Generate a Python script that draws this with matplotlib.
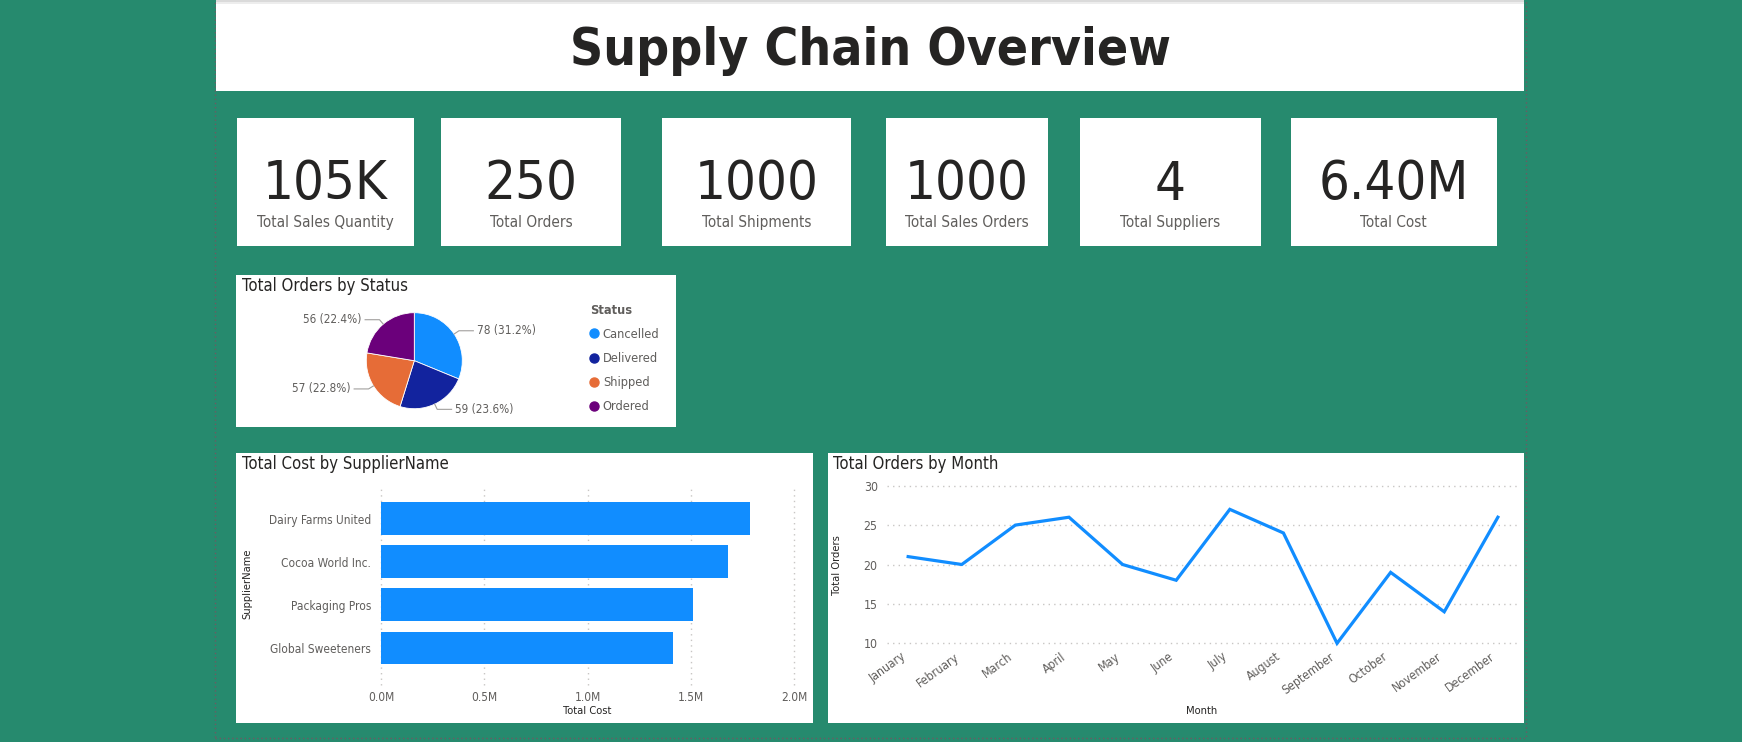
import numpy as np
import matplotlib
matplotlib.use("Agg")
import matplotlib.pyplot as plt
from matplotlib.patches import Rectangle
from matplotlib.lines import Line2D
from matplotlib.ticker import FuncFormatter
from matplotlib.transforms import ScaledTranslation

# Data ------------------------------------------------------------------------
kpi_values = ["105K", "250", "1000", "1000", "4", "6.40M"]
kpi_labels = ["Total Sales Quantity", "Total Orders", "Total Shipments",
              "Total Sales Orders", "Total Suppliers", "Total Cost"]

status_names = ["Cancelled", "Delivered", "Shipped", "Ordered"]
status_orders = [78, 59, 57, 56]

supplier_names = ["Dairy Farms United", "Cocoa World Inc.", "Packaging Pros", "Global Sweeteners"]
supplier_cost = [1.785e6, 1.680e6, 1.511e6, 1.414e6]

months = ["January", "February", "March", "April", "May", "June", "July",
          "August", "September", "October", "November", "December"]
month_orders = [21, 20, 25, 26, 20, 18, 27, 24, 10, 19, 14, 26]

# Style -----------------------------------------------------------------------
plt.rcParams["font.family"] = ["DejaVu Sans"]
plt.rcParams["font.stretch"] = "condensed"

GREEN = "#268A6E"
DARK = "#252423"
GREY = "#605E5C"
GRID = "#C8C6C4"
BLUE = "#118DFF"
status_colors = ["#118DFF", "#12239E", "#E66C37", "#6B007B"]

W, H = 1742, 742


def fx(x):
    return x / W


def fy(y):
    return 1 - y / H


def box(x0, y0, x1, y1):
    # pixel rectangle (y measured from the top) -> figure fraction
    return [x0 / W, 1 - y1 / H, (x1 - x0) / W, (y1 - y0) / H]


def panel(x0, y0, x1, y1, color="white"):
    fig.add_artist(Rectangle((x0 / W, 1 - y1 / H), (x1 - x0) / W, (y1 - y0) / H,
                             transform=fig.transFigure, facecolor=color,
                             edgecolor="none", zorder=-1))


fig = plt.figure(figsize=(W / 100, H / 100), dpi=100, facecolor=GREEN)

# report border (dotted), sits under the panels
fig.add_artist(Rectangle((fx(215), fy(738)), (1526 - 215) / W, (738 - 1.5) / H,
                         transform=fig.transFigure, facecolor="none",
                         edgecolor="#6E5A62", linestyle=(0, (1, 2)), lw=1, zorder=-2))

# Header ----------------------------------------------------------------------
panel(216, 0, 1524, 90.7)
panel(216, 0, 1524, 2, color="#DADADA")
panel(216, 2, 1524, 4, color="#EDEDED")
fig.text(fx(870), fy(65), "Supply Chain Overview", ha="center", va="baseline",
         fontsize=37, fontweight="bold", color=DARK)

# KPI cards -------------------------------------------------------------------
card_x = [(236.5, 414.4), (441, 621.3), (662, 850.7), (886, 1048), (1080, 1261), (1290.5, 1497)]
for (x0, x1), val, lab in zip(card_x, kpi_values, kpi_labels):
    panel(x0, 117.7, x1, 245.8)
    xc = (x0 + x1) / 2
    fig.text(fx(xc), fy(199.5), val, ha="center", va="baseline",
             fontsize=39, color=DARK)
    fig.text(fx(xc), fy(227), lab, ha="center", va="baseline",
             fontsize=11, color=GREY)

# Pie: Total Orders by Status --------------------------------------------------
panel(236, 275, 676, 427.3)
fig.text(fx(241.7), fy(290.7), "Total Orders by Status", ha="left", va="baseline",
         fontsize=12, color=DARK)

cx, cy, r = 414.3, 360.7, 48
ax_pie = fig.add_axes(box(cx - r, cy - r, cx + r, cy + r))
wedges, _ = ax_pie.pie(status_orders, colors=status_colors, startangle=90,
                       counterclock=False, radius=1,
                       wedgeprops=dict(edgecolor="white", linewidth=0.6))
ax_pie.set_xlim(-1, 1)
ax_pie.set_ylim(-1, 1)
ax_pie.axis("off")

total = sum(status_orders)
for w, v in zip(wedges, status_orders):
    ang = np.deg2rad((w.theta1 + w.theta2) / 2)
    px, py = np.cos(ang), np.sin(ang)
    ex, ey = 1.12 * px, 1.12 * py
    side = 1 if px >= 0 else -1
    lx = ex + side * 0.3
    ax_pie.plot([1.0 * px, ex, lx], [1.0 * py, ey, ey], color="#A19F9D",
                lw=0.8, clip_on=False)
    ax_pie.text(lx + side * 0.07, ey, f"{v} ({v / total * 100:.1f}%)",
                ha="left" if side > 0 else "right", va="center",
                fontsize=8.5, color=GREY, clip_on=False)

handles = [Line2D([], [], marker="o", linestyle="none", markersize=6.5,
                  markerfacecolor=c, markeredgecolor=c) for c in status_colors]
leg = fig.legend(handles, status_names, title="Status", loc="upper left",
                 bbox_to_anchor=(fx(590), fy(303.5)), frameon=False,
                 fontsize=9.2, title_fontsize=9.2, borderpad=0, borderaxespad=0,
                 handlelength=0.7, handletextpad=0.3, labelspacing=0.88,
                 alignment="left")
leg.get_title().set_fontweight("bold")
leg.get_title().set_color(GREY)
for t in leg.get_texts():
    t.set_color(GREY)

# Bar: Total Cost by SupplierName ----------------------------------------------
panel(236, 452.7, 812.7, 722.7)
fig.text(fx(241.7), fy(469.3), "Total Cost by SupplierName", ha="left", va="baseline",
         fontsize=12, color=DARK)

ax_bar = fig.add_axes(box(381, 486.7, 794.3, 685))
ypos = np.arange(len(supplier_names))
ax_bar.barh(ypos, supplier_cost, height=0.76, color=BLUE, zorder=2)
ax_bar.set_xlim(0, 2.0e6)
ax_bar.set_ylim(3.86, -0.74)
ax_bar.set_yticks(ypos)
ax_bar.set_yticklabels(supplier_names)
ax_bar.set_xticks(np.arange(0, 2.0e6 + 1, 0.5e6))
ax_bar.xaxis.set_major_formatter(FuncFormatter(lambda v, p: f"{v / 1e6:.1f}M"))
ax_bar.grid(axis="x", color=GRID, linestyle=(0, (1, 3)), lw=1, zorder=0)
ax_bar.set_facecolor("none")
for s in ax_bar.spines.values():
    s.set_visible(False)
ax_bar.tick_params(axis="both", length=0, labelsize=8.6, labelcolor=GREY)
ax_bar.tick_params(axis="y", pad=7)
ax_bar.tick_params(axis="x", pad=4)
for gl in ax_bar.get_xgridlines():
    gl.set_clip_on(False)
fig.text(fx(247.3), fy(583.3), "SupplierName", rotation=90, ha="center", va="center",
         fontsize=8, color=DARK)
fig.text(fx(587.5), fy(711), "Total Cost", ha="center", va="center",
         fontsize=8, color=DARK)

# Line: Total Orders by Month --------------------------------------------------
panel(827.7, 452.7, 1524, 722.7)
fig.text(fx(833), fy(469), "Total Orders by Month", ha="left", va="baseline",
         fontsize=12, color=DARK)

ax_line = fig.add_axes(box(886.7, 485.7, 1517.7, 643.3))
xpos = np.arange(len(months))
ax_line.plot(xpos, month_orders, color=BLUE, lw=2.3, solid_joinstyle="miter",
             clip_on=False, zorder=3)
ax_line.set_xlim(-0.4, 11.37)
ax_line.set_ylim(10, 30)
ax_line.set_yticks([10, 15, 20, 25, 30])
ax_line.set_xticks(xpos)
ax_line.grid(axis="y", color=GRID, linestyle=(0, (1, 3)), lw=1, zorder=0)
ax_line.set_facecolor("none")
for s in ax_line.spines.values():
    s.set_visible(False)
ax_line.tick_params(axis="both", length=0, labelsize=8.8, labelcolor=GREY)
ax_line.tick_params(axis="y", pad=6.5)
ax_line.tick_params(axis="x", pad=5)
for gl in ax_line.get_ygridlines():
    gl.set_clip_on(False)
ax_line.set_xticklabels(months, rotation=36, ha="right", va="top",
                        rotation_mode="anchor")
# month labels sit a little left of their tick, as in the report
shift = ScaledTranslation(-8 / 100, 0, fig.dpi_scale_trans)
for lab in ax_line.get_xticklabels():
    lab.set_transform(lab.get_transform() + shift)
fig.text(fx(837.3), fy(565), "Total Orders", rotation=90, ha="center", va="center",
         fontsize=8, color=DARK)
fig.text(fx(1202), fy(711), "Month", ha="center", va="center",
         fontsize=8, color=DARK)

fig.savefig("out.png", dpi=100, facecolor=GREEN)
